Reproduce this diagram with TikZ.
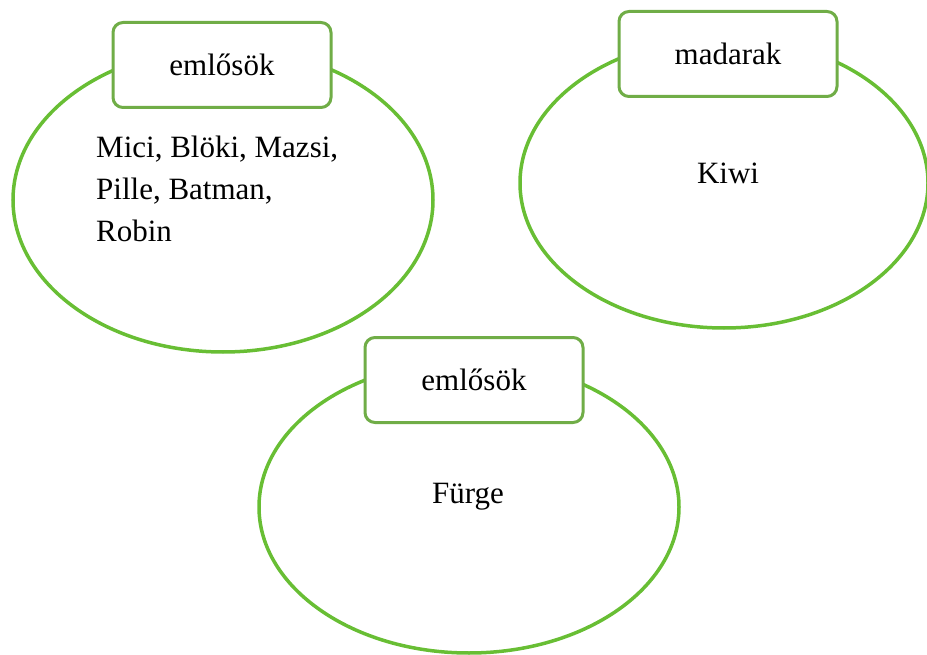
\documentclass[tikz,border=0pt]{standalone}
\usepackage{fontspec}
\setmainfont{Liberation Serif}
\usetikzlibrary{shapes.geometric}

\definecolor{ringgreen}{RGB}{104,190,52}
\definecolor{tabgreen}{RGB}{112,173,71}

\tikzset{
  ring/.style={draw=ringgreen, line width=3.5pt, ellipse, inner sep=0pt},
  tab/.style={draw=tabgreen, line width=3pt, fill=white, rounded corners=10pt,
    minimum width=218pt, minimum height=85pt, inner sep=0pt},
  word/.style={font=\fontsize{31}{42}\selectfont, inner sep=0pt}
}

\begin{document}
\begin{tikzpicture}[x=1pt, y=-1pt]
                \useasboundingbox (0,0) rectangle (927,655);

                \node[ring, minimum width=420pt, minimum height=304pt] (mammalring) at (223,200) {};
                \node[ring, minimum width=408pt, minimum height=290pt] (birdring) at (724,183) {};
                \node[ring, minimum width=420pt, minimum height=292pt] (swiftring) at (469,507) {};

                \node[tab, word] (mammaltab) at (222,65) {emlősök};
                \node[tab, word] (birdtab) at (728,54) {madarak};
                \node[tab, word] (swifttab) at (474,380) {emlősök};

                \node[word, align=left, anchor=north west] (mammallist) at (96,136) {Mici, Blöki, Mazsi,\\Pille, Batman,\\Robin};
                \node[word, anchor=base] (birdlist) at (728,184) {Kiwi};
                \node[word, anchor=base] (swiftlist) at (468,503) {Fürge};
            \end{tikzpicture}
\end{document}
